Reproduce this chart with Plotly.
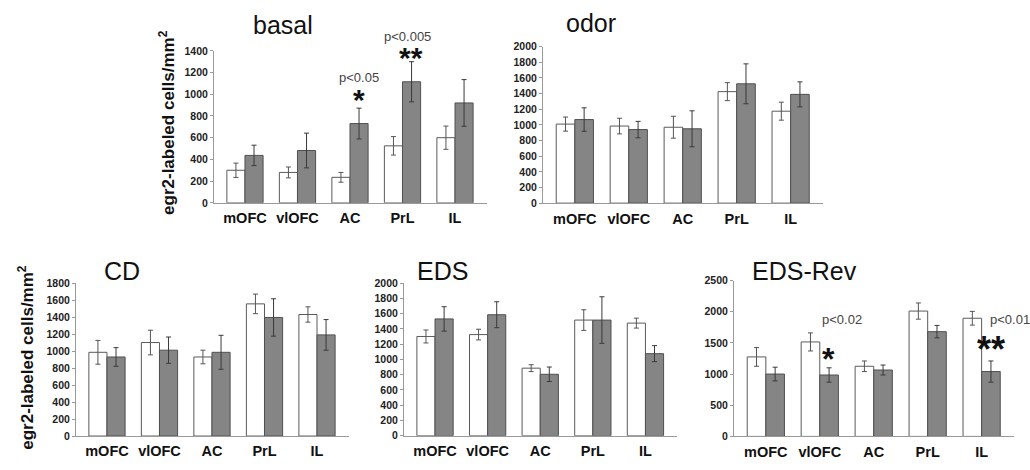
import plotly.graph_objects as go

# ---------------- data ----------------
regions = ["mOFC", "vlOFC", "AC", "PrL", "IL"]
panel_titles = ["basal", "odor", "CD", "EDS", "EDS-Rev"]

basal_ctrl = [300, 280, 235, 525, 600]
basal_ctrl_err = [66, 50, 45, 85, 107]
basal_exp = [437, 482, 730, 1115, 920]
basal_exp_err = [94, 160, 142, 185, 215]

odor_ctrl = [1010, 985, 970, 1425, 1175]
odor_ctrl_err = [90, 100, 140, 115, 115]
odor_exp = [1068, 940, 950, 1525, 1390]
odor_exp_err = [150, 105, 230, 255, 160]

cd_ctrl = [985, 1100, 930, 1555, 1430]
cd_ctrl_err = [140, 145, 80, 115, 90]
cd_exp = [930, 1010, 985, 1395, 1190]
cd_exp_err = [110, 155, 200, 220, 180]

eds_ctrl = [1300, 1325, 885, 1515, 1475]
eds_ctrl_err = [85, 70, 45, 135, 65]
eds_exp = [1530, 1585, 805, 1515, 1075]
eds_exp_err = [160, 170, 95, 305, 105]

edsrev_ctrl = [1275, 1515, 1125, 2010, 1895]
edsrev_ctrl_err = [150, 145, 85, 130, 110]
edsrev_exp = [1000, 985, 1065, 1680, 1040]
edsrev_exp_err = [110, 115, 80, 100, 170]

y_max = [1400, 2000, 1800, 2000, 2500]
y_dtick = [200, 200, 200, 200, 500]

y_title = "egr2-labeled cells/mm<sup>2</sup>"

# significance marks: panel, region, stars, p-text
sig_panel = [0, 0, 4, 4]
sig_region = ["AC", "PrL", "vlOFC", "IL"]
sig_stars = ["*", "**", "*", "**"]
sig_ptext = ["p<0.05", "p<0.005", "p<0.02", "p<0.01"]

# ---------------- layout geometry (pixels) ----------------
W, H = 1030, 470
FONT = "Liberation Sans, Arial, sans-serif"
# left, right, bottom, top of each plot area; title centre x, title centre y
geom = [
    (214, 486.5, 202, 46, 283, 19),
    (543, 823, 202.3, 41.7, 591, 17),
    (76, 348.5, 441.3, 284.3, 122, 272),
    (404, 677, 441, 284.3, 442, 272),
    (734, 1014, 441.7, 281.7, 804, 272),
]
# placement of the significance marks (y in axis units of the panel):
# (star x, star y, star size, p-text x, p-text y, p-text anchor)
sig_place = [
    (2.17, 956, 30, 2.17, 1158, "center"),
    (3.17, 1335, 30, 3.10, 1535, "center"),
    (1.17, 1245, 32, 1.41, 1870, "center"),
    (4.17, 1386, 36, 4.12, 1870, "left"),
]

ctrl_sets = [(basal_ctrl, basal_ctrl_err), (odor_ctrl, odor_ctrl_err), (cd_ctrl, cd_ctrl_err),
             (eds_ctrl, eds_ctrl_err), (edsrev_ctrl, edsrev_ctrl_err)]
exp_sets = [(basal_exp, basal_exp_err), (odor_exp, odor_exp_err), (cd_exp, cd_exp_err),
            (eds_exp, eds_exp_err), (edsrev_exp, edsrev_exp_err)]

fig = go.Figure()
annotations = []
axis_col = "#9a9a9a"

for i in range(5):
    sfx = "" if i == 0 else str(i + 1)
    xa, ya = "x" + sfx, "y" + sfx
    (c, ce), (e, ee) = ctrl_sets[i], exp_sets[i]
    fig.add_trace(go.Bar(
        x=regions, y=c, xaxis=xa, yaxis=ya,
        marker=dict(color="white", line=dict(color="#5a5a5a", width=1)),
        error_y=dict(type="data", array=ce, color="#555555", thickness=1, width=2.5),
        offsetgroup="ctrl", showlegend=False, hoverinfo="skip"))
    fig.add_trace(go.Bar(
        x=regions, y=e, xaxis=xa, yaxis=ya,
        marker=dict(color="#858585", line=dict(color="#505050", width=1)),
        error_y=dict(type="data", array=ee, color="#3a3a3a", thickness=1, width=2.5),
        offsetgroup="exp", showlegend=False, hoverinfo="skip"))

    l, r, b, t, tx, ty = geom[i]
    fig.layout["xaxis" + sfx] = dict(
        domain=[l / W, r / W], anchor=ya, type="category",
        range=[-0.59, 4.6], showline=True, linecolor=axis_col, linewidth=1,
        ticks="outside", ticklen=2, tickcolor="rgba(0,0,0,0)",
        showgrid=False, zeroline=False, fixedrange=True,
        tickfont=dict(family=FONT, size=14.5, color="#111", weight="bold"))
    fig.layout["yaxis" + sfx] = dict(
        domain=[1 - b / H, 1 - t / H], anchor=xa,
        range=[0, y_max[i]], dtick=y_dtick[i], tick0=0,
        showline=True, linecolor=axis_col, linewidth=1,
        ticks="outside", ticklen=3, tickcolor=axis_col,
        showgrid=False, zeroline=False, fixedrange=True,
        tickfont=dict(family=FONT, size=10.5, color="#222", weight="bold"))
    annotations.append(dict(
        text=panel_titles[i], x=tx / W, y=1 - ty / H, xref="paper", yref="paper",
        xanchor="center", yanchor="middle", showarrow=False,
        font=dict(family=FONT, size=25, color="#111")))

# y-axis titles
for (cx, cy) in [(167, 120), (26, 361)]:
    annotations.append(dict(
        text=y_title, x=cx / W, y=1 - cy / H, xref="paper", yref="paper",
        xanchor="center", yanchor="middle", textangle=-90, showarrow=False,
        font=dict(family=FONT, size=17, color="#111", weight="bold")))

# significance annotations (y given relative to the axis domain so marks above
# the axis top are still drawn)
for j in range(len(sig_panel)):
    pi = sig_panel[j]
    sfx = "" if pi == 0 else str(pi + 1)
    sx, sy, ssize, ptx, pty, panchor = sig_place[j]
    ymx = y_max[pi]
    annotations.append(dict(
        text=sig_stars[j], x=sx, y=sy / ymx, xref="x" + sfx, yref="y" + sfx + " domain",
        xanchor="center", yanchor="middle", showarrow=False,
        font=dict(family=FONT, size=ssize, color="#111", weight="bold")))
    annotations.append(dict(
        text=sig_ptext[j], x=ptx, y=pty / ymx, xref="x" + sfx, yref="y" + sfx + " domain",
        xanchor=panchor, yanchor="middle", showarrow=False,
        font=dict(family=FONT, size=13, color="#444")))

fig.update_layout(
    width=W, height=H, margin=dict(l=0, r=0, t=0, b=0),
    paper_bgcolor="white", plot_bgcolor="white",
    barmode="group", bargap=0.31, bargroupgap=0,
    annotations=annotations, showlegend=False, hovermode=False,
)

fig.write_html("out.html", config={"displayModeBar": False, "staticPlot": True},
               post_script="document.body.style.margin='0';")
